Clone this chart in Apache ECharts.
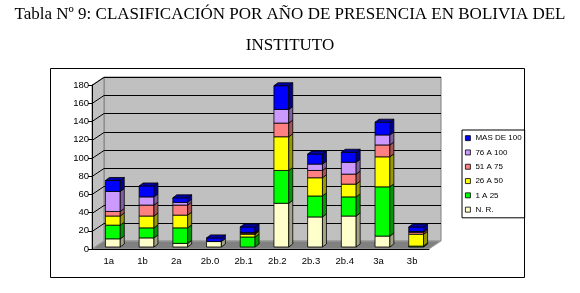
<!DOCTYPE html>
<html>
<head>
<meta charset="utf-8">
<script src="https://cdn.jsdelivr.net/npm/echarts@6.0.0/dist/echarts.min.js"></script>
<style>
  html, body { margin: 0; padding: 0; background: #fff; }
  #chart { width: 580px; height: 293px; }
</style>
</head>
<body>
<div id="chart"></div>
<script>
// categorias
const categories = ['1a', '1b', '2a', '2b.0', '2b.1', '2b.2', '2b.3', '2b.4', '3a', '3b'];
// valores por rango (de abajo hacia arriba)
const nr = [9, 10, 4, 6, 0, 48, 33, 34, 12, 0];
const r1a25 = [15, 11, 17, 0, 11, 36, 23, 21, 54, 1];
const r26a50 = [10, 13, 14, 0, 3, 37, 20, 14, 33, 13];
const r51a75 = [5, 12, 11, 0, 1, 15, 8, 11, 13, 2];
const r76a100 = [22, 9, 3, 0, 1, 15, 7, 13, 11, 1];
const mas100 = [12, 12, 5, 4, 6, 26, 11, 11, 14, 5];
const yTicks = [0, 20, 40, 60, 80, 100, 120, 140, 160, 180];

const seriesNames = ['N. R.', '1 A 25', '26 A 50', '51 A 75', '76 A 100', 'MAS DE 100'];
const seriesValues = [nr, r1a25, r26a50, r51a75, r76a100, mas100];
const frontColors = ['#FFFFCC', '#00FF00', '#FFFF00', '#FF8080', '#CC99FF', '#0000FF'];
const sideColors = ['#A3A385', '#009900', '#999900', '#A65353', '#7F5FA0', '#000090'];
const topColors = ['#CCCCA3', '#00C000', '#CCCC00', '#CC6666', '#A37ACC', '#0000A8'];

// profundidad del "3D"
const WALL_DX = 12, WALL_DY = -8;
const BAR_DX = 4, BAR_DY = -2;
const SIDE_DX = 4, SIDE_DY = -3;

const chart = echarts.init(document.getElementById('chart'), null, { renderer: 'canvas' });

// indice de la ultima serie con valor (para dibujar la tapa)
const topIndex = categories.map((c, i) => {
  let idx = -1;
  seriesValues.forEach((vals, s) => { if (vals[i] > 0) idx = s; });
  return idx;
});

const barSeries = seriesValues.map((vals, s) => ({
  name: seriesNames[s],
  type: 'custom',
  z: 3,
  clip: false,
  itemStyle: { color: frontColors[s] },
  encode: { x: 0, y: 1 },
  data: vals.map((v, i) => {
    let base = 0;
    for (let k = 0; k < s; k++) base += seriesValues[k][i];
    return [i, v, base, topIndex[i] === s ? 1 : 0];
  }),
  renderItem: (params, api) => {
    const c = api.value(0), v = api.value(1), b = api.value(2), isTop = api.value(3);
    if (!v) return null;
    const pb = api.coord([c, b]);
    const pt = api.coord([c, b + v]);
    const bw = api.size([1, 0])[0] * 0.44;
    const x0 = pb[0] - bw / 2 + BAR_DX, x1 = x0 + bw;
    const yb = pb[1] + BAR_DY, yt = pt[1] + BAR_DY;
    const stroke = { stroke: '#000', lineWidth: 0.8 };
    const children = [
      { type: 'rect', shape: { x: x0, y: yt, width: bw, height: yb - yt },
        style: Object.assign({ fill: frontColors[s] }, stroke) },
      { type: 'polygon', shape: { points: [[x1, yb], [x1 + SIDE_DX, yb + SIDE_DY], [x1 + SIDE_DX, yt + SIDE_DY], [x1, yt]] },
        style: Object.assign({ fill: sideColors[s] }, stroke) }
    ];
    if (isTop) {
      children.push({ type: 'polygon', shape: { points: [[x0, yt], [x1, yt], [x1 + SIDE_DX, yt + SIDE_DY], [x0 + SIDE_DX, yt + SIDE_DY]] },
        style: Object.assign({ fill: topColors[s] }, stroke) });
    }
    return { type: 'group', children };
  }
}));

// paredes, piso y lineas de division
const wallSeries = {
  type: 'custom',
  silent: true,
  z: 1,
  clip: false,
  data: [[0, 0]],
  encode: { x: 0, y: 1 },
  renderItem: (params, api) => {
    const cs = params.coordSys;
    const x = cs.x, y = cs.y, w = cs.width, h = cs.height;
    const children = [
      { type: 'polygon', shape: { points: [[x + WALL_DX, y + WALL_DY], [x + w + WALL_DX, y + WALL_DY], [x + w + WALL_DX, y + h + WALL_DY], [x + WALL_DX, y + h + WALL_DY]] },
        style: { fill: '#C0C0C0', stroke: '#808080', lineWidth: 1 } },
      { type: 'polygon', shape: { points: [[x, y], [x + WALL_DX, y + WALL_DY], [x + WALL_DX, y + h + WALL_DY], [x, y + h]] },
        style: { fill: '#C0C0C0', stroke: '#808080', lineWidth: 1 } },
      { type: 'polygon', shape: { points: [[x, y + h], [x + WALL_DX, y + h + WALL_DY], [x + w + WALL_DX, y + h + WALL_DY], [x + w, y + h]] },
        style: { fill: '#808080', stroke: '#A0A0A0', lineWidth: 1 } }
    ];
    yTicks.forEach(t => {
      if (t === 0) return;
      const yy = Math.round(api.coord([0, t])[1]) + 0.5;
      children.push({ type: 'polyline', shape: { points: [[x, yy], [x + WALL_DX, yy + WALL_DY], [x + w + WALL_DX, yy + WALL_DY]] },
        style: { stroke: '#000', lineWidth: 1, fill: null } });
    });
    return { type: 'group', children };
  }
};

const titleFont = { fontFamily: 'Liberation Serif', fontSize: 17, fontWeight: 'normal', color: '#000' };

const option = {
  backgroundColor: '#fff',
  animation: false,
  title: [
    { text: 'Tabla Nº 9: CLASIFICACIÓN POR AÑO DE PRESENCIA EN BOLIVIA DEL', left: 'center', top: 6, padding: 0, textStyle: titleFont },
    { text: 'INSTITUTO', left: 'center', top: 37, padding: 0, textStyle: titleFont }
  ],
  legend: {
    orient: 'vertical',
    left: 462,
    top: 130,
    data: ['MAS DE 100', '76 A 100', '51 A 75', '26 A 50', '1 A 25', 'N. R.'],
    icon: 'rect',
    itemWidth: 5,
    itemHeight: 5,
    itemGap: 0,
    padding: [1, 3, 1, 3],
    borderColor: '#000',
    borderWidth: 1,
    itemStyle: { borderColor: '#000', borderWidth: 0.8 },
    textStyle: { fontFamily: 'Liberation Sans', fontSize: 8, color: '#000', lineHeight: 14.3 }
  },
  grid: { left: 92, right: 151, top: 85, bottom: 44 },
  xAxis: {
    type: 'category',
    data: categories,
    z: 10,
    axisLine: { lineStyle: { color: '#000', width: 1 } },
    axisTick: { length: 4, lineStyle: { color: '#000' } },
    axisLabel: { fontFamily: 'Liberation Sans', fontSize: 9.5, color: '#000', margin: 7 }
  },
  yAxis: {
    type: 'value',
    min: 0,
    max: 180,
    interval: 20,
    z: 10,
    axisLine: { show: true, lineStyle: { color: '#000', width: 1 } },
    axisTick: { show: true, length: 4, lineStyle: { color: '#000' } },
    splitLine: { show: false },
    axisLabel: { fontFamily: 'Liberation Sans', fontSize: 9.5, color: '#000', margin: 3 }
  },
  graphic: [
    { type: 'rect', shape: { x: 50.5, y: 68.5, width: 474, height: 209 },
      style: { fill: null, stroke: '#000', lineWidth: 1 }, z: 0, silent: true }
  ],
  series: [wallSeries].concat(barSeries)
};

chart.setOption(option);
</script>
</body>
</html>
